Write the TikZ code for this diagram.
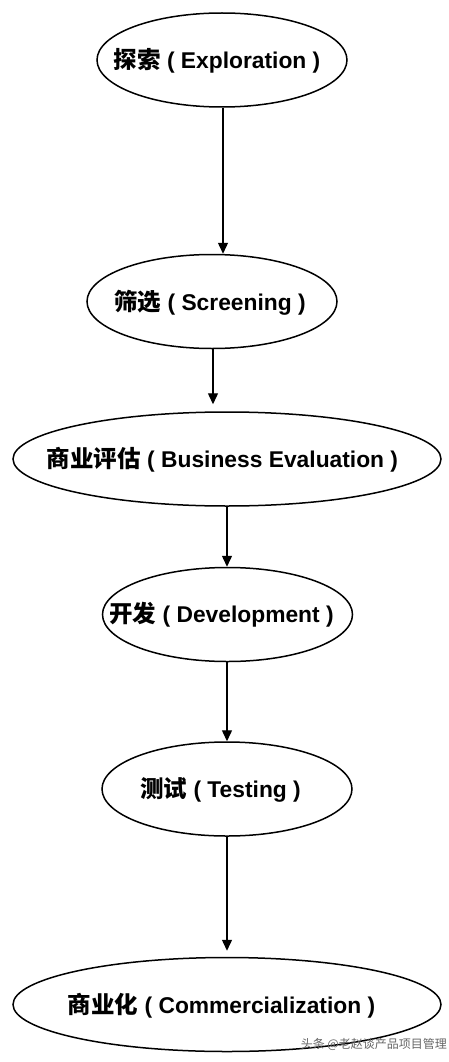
\documentclass[tikz,border=0pt]{standalone}
\usepackage{fontspec}
\setmainfont{Liberation Sans}
\newfontfamily\cjk{Noto Sans CJK SC}
\usetikzlibrary{shapes.geometric,arrows.meta}
\newcommand{\zh}[1]{{\cjk\bfseries\fontsize{23.5}{26}\selectfont #1}}
\begin{document}
\begin{tikzpicture}[x=1pt,y=-1pt,
  oval/.style={ellipse,draw,line width=1.5pt,inner sep=0pt},
  small/.style={oval,minimum width=250pt,minimum height=94pt},
  wide/.style={oval,minimum width=428pt,minimum height=94pt},
  lbl/.style={font=\fontsize{22.8}{26}\selectfont\bfseries,inner sep=0pt},
  flow/.style={line width=1.4pt,-{Triangle[width=10pt,length=11pt]}},
  wm/.style={font=\fontsize{12}{14}\selectfont\cjk,text=black!60,inner sep=0pt,anchor=east}]
\useasboundingbox (0,0) rectangle (449,1062);
\fill[white] (0,0) rectangle (449,1062);
\node[small] (e1) at (222,60) {};
\node[small] (e2) at (212,301.5) {};
\node[wide]  (e3) at (227,459) {};
\node[small] (e4) at (227.5,614.5) {};
\node[small] (e5) at (227,789) {};
\node[wide]  (e6) at (227,1004.5) {};
\node[lbl] (t1) at (217,61) {\zh{探索}\ (\ Exploration\ )};
\node[lbl] (t2) at (210,303) {\zh{筛选}\ (\ Screening\ )};
\node[lbl] (t3) at (222.5,460) {\zh{商业评估}\ (\ Business Evaluation\ )};
\node[lbl] (t4) at (221.5,615) {\zh{开发}\ (\ Development\ )};
\node[lbl] (t5) at (220.5,790) {\zh{测试}\ (\ Testing\ )};
\node[lbl] (t6) at (221.5,1006) {\zh{商业化}\ (\ Commercialization\ )};
\coordinate (a1) at (223,0);
\coordinate (a2) at (213,0);
\coordinate (a3) at (227,0);
\draw[flow] (e1.south -| a1) -- (e2.north -| a1);
\draw[flow,shorten >=7pt] (e2.south -| a2) -- (e3.north -| a2);
\draw[flow] (e3.south -| a3) -- (e4.north -| a3);
\draw[flow] (e4.south -| a3) -- (e5.north -| a3);
\draw[flow,shorten >=6pt] (e5.south -| a3) -- (e6.north -| a3);
\node[wm] (w) at (447,1044) {头条 @老赵谈产品项目管理};
\end{tikzpicture}
\end{document}
